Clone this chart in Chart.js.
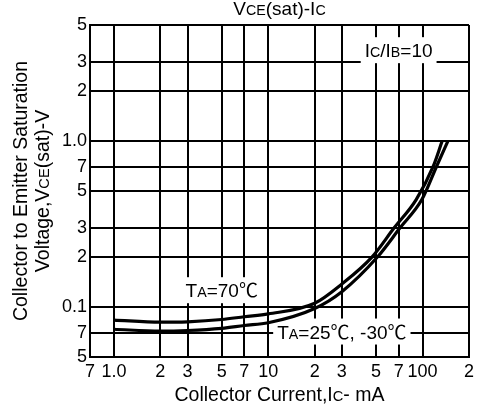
<!DOCTYPE html>
<html>
<head>
<meta charset="utf-8">
<script src="https://cdn.jsdelivr.net/npm/chart.js@4.4.0/dist/chart.umd.min.js"></script>
<style>
  html, body { margin: 0; padding: 0; background: #fff; }
  #wrap { width: 478px; height: 411px; }
</style>
</head>
<body>
<div id="wrap"><canvas id="vceChart" width="478" height="411"></canvas></div>
<script>
// ==========================================
// DATA (Ic/Ib = 10)
// ==========================================
const current70 = [1, 2, 3, 5, 7, 10, 20, 30, 47, 65.5, 91, 117, 134];            // mA
const vce70 = [0.0835, 0.081, 0.0815, 0.0841, 0.0874, 0.0909, 0.1054, 0.1377, 0.2, 0.3, 0.444, 0.7, 1.0]; // V

const current25 = [1, 2, 3, 5, 7, 10, 20, 30, 51, 71.5, 99, 123, 146];
const vce25 = [0.0735, 0.0716, 0.0722, 0.0744, 0.0774, 0.0804, 0.098, 0.1237, 0.2, 0.3, 0.444, 0.7, 1.0];

const xTicks = [0.7, 1, 2, 3, 5, 7, 10, 20, 30, 50, 70, 100, 200];
const xTickLabels = ['7', '1.0', '2', '3', '5', '7', '10', '2', '3', '5', '7', '100', '2'];
const yTicks = [0.05, 0.07, 0.1, 0.2, 0.3, 0.5, 0.7, 1, 2, 3, 5];
const yTickLabels = ['5', '7', '0.1', '2', '3', '5', '7', '1.0', '2', '3', '5'];

const FONT = "'Liberation Sans', Arial, 'Noto Sans CJK SC', sans-serif";

// draw text made of parts [text, scale] on one baseline (for the small "CE", "A", "B" letters)
function drawRich(ctx, parts, x, y, size, align) {
    let total = 0;
    const widths = parts.map(p => {
        ctx.font = `${size * (p[1] || 1)}px ${FONT}`;
        const w = ctx.measureText(p[0]).width;
        total += w;
        return w;
    });
    let cx = align === 'center' ? x - total / 2 : x;
    ctx.textBaseline = 'alphabetic';
    ctx.textAlign = 'left';
    ctx.fillStyle = '#000';
    parts.forEach((p, i) => {
        ctx.font = `${size * (p[1] || 1)}px ${FONT}`;
        ctx.fillText(p[0], cx, y);
        cx += widths[i];
    });
}

function measureRich(ctx, parts, size) {
    let total = 0;
    parts.forEach(p => {
        ctx.font = `${size * (p[1] || 1)}px ${FONT}`;
        total += ctx.measureText(p[0]).width;
    });
    return total;
}

// annotations inside the plot: white box over the grid, then the text
const notes = [
    { parts: [['I'], ['C', 0.75], ['/I'], ['B', 0.75], ['=10']], x: 70, y: 3.2 },
    { parts: [['T'], ['A', 0.75], ['=70℃']], x: 5, y: 0.1146 },
    { parts: [['T'], ['A', 0.75], ['=25℃, -30℃']], x: 30, y: 0.0646 }
];

const labelPlugin = {
    id: 'labelPlugin',
    beforeDatasetsDraw(chart) {
        const ctx = chart.ctx;
        const xs = chart.scales.x, ys = chart.scales.y;
        ctx.save();
        notes.forEach(n => {
            const cx = xs.getPixelForValue(n.x);
            const by = ys.getPixelForValue(n.y);
            const w = measureRich(ctx, n.parts, 19);
            ctx.fillStyle = '#fff';
            ctx.fillRect(cx - w / 2 - 4, by - 20, w + 8, 26);
            drawRich(ctx, n.parts, cx, by, 19, 'center');
        });
        ctx.restore();
    },
    afterDraw(chart) {
        const ctx = chart.ctx;
        const area = chart.chartArea;
        const midX = (area.left + area.right) / 2;
        const midY = (area.top + area.bottom) / 2;
        ctx.save();
        // chart title
        drawRich(ctx, [['V'], ['CE', 0.75], ['(sat)-I'], ['C', 0.75]], midX, 15, 19, 'center');
        // x axis title
        drawRich(ctx, [['Collector Current,I'], ['C', 0.75], ['- mA']], midX, 401, 19.5, 'center');
        // y axis title, two rotated lines
        ctx.save();
        ctx.translate(27, midY);
        ctx.rotate(-Math.PI / 2);
        drawRich(ctx, [['Collector to Emitter Saturation']], 0, 0, 19.5, 'center');
        ctx.restore();
        ctx.save();
        ctx.translate(49, midY);
        ctx.rotate(-Math.PI / 2);
        drawRich(ctx, [['Voltage,V'], ['CE', 0.75], ['(sat)-V']], 0, 0, 19.5, 'center');
        ctx.restore();
        ctx.restore();
    }
};

const toPoints = (xs, ys) => xs.map((x, i) => ({ x: x, y: ys[i] }));

const lineStyle = {
    showLine: true,
    borderColor: '#000',
    backgroundColor: '#000',
    borderWidth: 3.2,
    pointRadius: 0,
    cubicInterpolationMode: 'monotone',
    fill: false
};

const ctx = document.getElementById('vceChart').getContext('2d');
new Chart(ctx, {
    type: 'scatter',
    data: {
        datasets: [
            Object.assign({ label: 'Ta=70', data: toPoints(current70, vce70) }, lineStyle),
            Object.assign({ label: 'Ta=25,-30', data: toPoints(current25, vce25) }, lineStyle)
        ]
    },
    options: {
        responsive: false,
        animation: false,
        devicePixelRatio: 1,
        layout: { padding: { left: 0, right: 9, top: 25, bottom: 0 } },
        plugins: { legend: { display: false }, tooltip: { enabled: false } },
        scales: {
            x: {
                type: 'logarithmic',
                min: 0.7, max: 200,
                afterBuildTicks: s => { s.ticks = xTicks.map(v => ({ value: v })); },
                afterFit: s => { s.height = 54; },
                ticks: {
                    callback: (v, i) => xTickLabels[i],
                    autoSkip: false, maxRotation: 0, minRotation: 0,
                    color: '#000', padding: 4,
                    font: { family: FONT, size: 18 }
                },
                grid: { color: '#000', lineWidth: 2, drawTicks: false },
                border: { color: '#000', width: 2 }
            },
            y: {
                type: 'logarithmic',
                min: 0.05, max: 5,
                afterBuildTicks: s => { s.ticks = yTicks.map(v => ({ value: v })); },
                afterFit: s => { s.width = 90; },
                ticks: {
                    callback: (v, i) => yTickLabels[i],
                    autoSkip: false,
                    color: '#000', padding: 3,
                    font: { family: FONT, size: 18 }
                },
                grid: { color: '#000', lineWidth: 2, drawTicks: false },
                border: { color: '#000', width: 2 }
            }
        }
    },
    plugins: [labelPlugin]
});
</script>
</body>
</html>
